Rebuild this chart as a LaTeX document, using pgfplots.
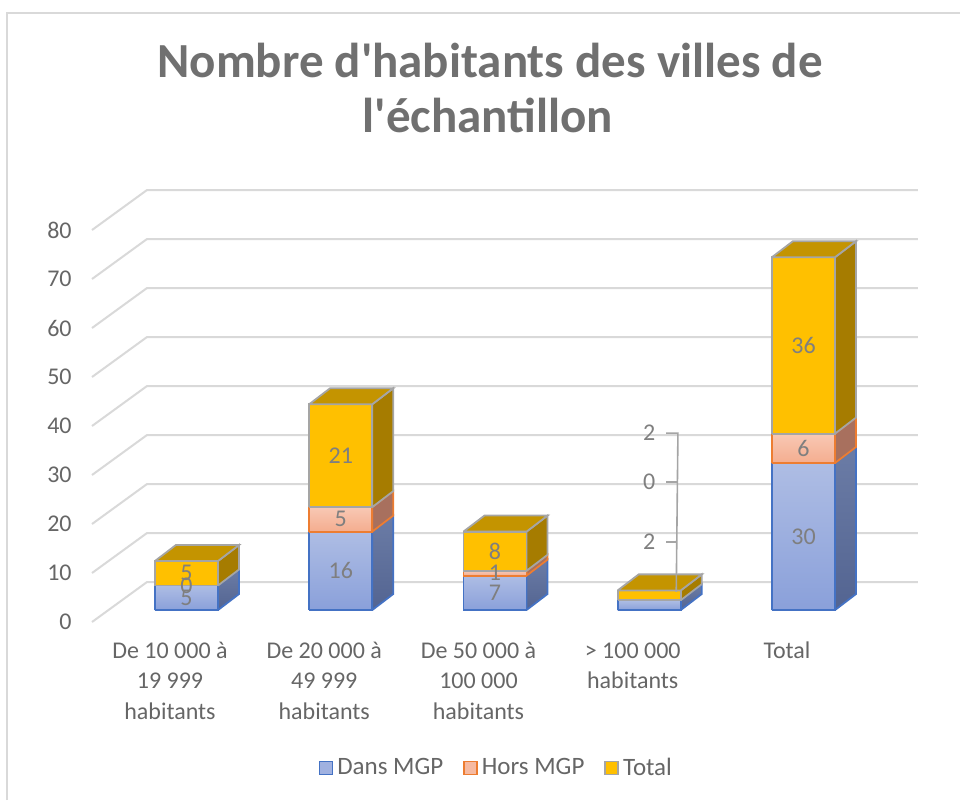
\documentclass[border=0pt]{standalone}
\usepackage{pgfplots}
\pgfplotsset{compat=1.18}
\usepackage{fontspec}
\setmainfont{Carlito}[Ligatures=TeXOff]
\definecolor{txt}{HTML}{666666}
\definecolor{ttl}{HTML}{707070}
\definecolor{lblgray}{HTML}{7F7F7F}
\definecolor{gridc}{HTML}{D9D9D9}
\definecolor{bTop}{HTML}{AEBDE4}
\definecolor{bBot}{HTML}{8AA0DA}
\definecolor{bEdge}{HTML}{4472C4}
\definecolor{bSideT}{HTML}{6B7CA6}
\definecolor{bSideB}{HTML}{536491}
\definecolor{oTop}{HTML}{F8C8B4}
\definecolor{oBot}{HTML}{F4AD8F}
\definecolor{oEdge}{HTML}{ED7D31}
\definecolor{oSide}{HTML}{A8705E}
\definecolor{yFront}{HTML}{FFC000}
\definecolor{yTop}{HTML}{C49400}
\definecolor{ySide}{HTML}{A67C00}
\definecolor{yEdge}{HTML}{A5A5A5}
\pgfplotsset{
 frontB/.style={top color=bTop,bottom color=bBot,draw=bEdge,line width=0.9pt},
 sideB/.style={top color=bSideT,bottom color=bSideB,draw=bEdge,line width=0.9pt},
 frontO/.style={top color=oTop,bottom color=oBot,draw=oEdge,line width=0.9pt},
 sideO/.style={fill=oSide,draw=oEdge,line width=0.9pt},
 frontY/.style={fill=yFront,draw=yEdge,line width=0.9pt},
 sideY/.style={fill=ySide,draw=yEdge,line width=0.9pt},
 topY/.style={fill=yTop,draw=yEdge,line width=0.9pt},
 lbl/.style={draw=none,mark=none,nodes near coords,point meta=explicit symbolic,
   every node near coord/.append style={anchor=center,font=\fontsize{12}{14}\selectfont,text=lblgray}},
}
% one segment of a 3D bar: #1 centre, #2 bottom, #3 top, #4 front style, #5 side style
\newcommand\seg[5]{%
 \pgfmathtruncatemacro\segok{(#3>#2)?1:0}%
 \ifnum\segok=1
  \pgfmathsetmacro\sxl{#1-0.2045}\pgfmathsetmacro\sxr{#1+0.2045}\pgfmathsetmacro\sxb{#1+0.3406}%
  \pgfmathsetmacro\syc{#2+3.27}\pgfmathsetmacro\syd{#3+3.27}%
  \edef\tmp{\noexpand\addplot[forget plot,mark=none,#5] coordinates {(\sxr,#2) (\sxb,\syc) (\sxb,\syd) (\sxr,#3) (\sxr,#2)};}\tmp
  \edef\tmp{\noexpand\addplot[forget plot,mark=none,#4] coordinates {(\sxl,#2) (\sxr,#2) (\sxr,#3) (\sxl,#3) (\sxl,#2)};}\tmp
 \fi}
% a stacked 3D bar: #1 centre, #2 Dans MGP, #3 Hors MGP, #4 Total, #5 labels on bar (1/0)
\newcommand\cube[5]{%
 \pgfmathsetmacro\cya{#2}\pgfmathsetmacro\cyb{#2+#3}\pgfmathsetmacro\cyc{#2+#3+#4}%
 \seg{#1}{0}{\cya}{frontB}{sideB}%
 \seg{#1}{\cya}{\cyb}{frontO}{sideO}%
 \seg{#1}{\cyb}{\cyc}{frontY}{sideY}%
 \pgfmathsetmacro\txl{#1-0.2045}\pgfmathsetmacro\txr{#1+0.2045}%
 \pgfmathsetmacro\txa{#1-0.0684}\pgfmathsetmacro\txb{#1+0.3406}\pgfmathsetmacro\tyy{\cyc+3.27}%
 \edef\tmp{\noexpand\addplot[forget plot,mark=none,topY] coordinates {(\txl,\cyc) (\txr,\cyc) (\txb,\tyy) (\txa,\tyy) (\txl,\cyc)};}\tmp
 \ifnum#5=1
  \pgfmathsetmacro\ma{\cya/2}\pgfmathsetmacro\mb{(\cya+\cyb)/2}\pgfmathsetmacro\mc{(\cyb+\cyc)/2}%
  \edef\tmp{\noexpand\addplot[forget plot,lbl] coordinates {(#1,\ma)[#2] (#1,\mb)[#3] (#1,\mc)[#4]};}\tmp
 \fi}
\begin{document}
\begin{tikzpicture}
\useasboundingbox (0,0) rectangle (480pt,-400pt);
\begin{scope}[x=0.5pt,y=-0.5pt]
 \draw[gridc,line width=0.8pt] (7,800) -- (7,13) -- (960,13);
 \node[anchor=base,text=ttl,font=\fontsize{24.5}{28}\selectfont\bfseries] at (490,77) {Nombre d'habitants des villes de};
 \node[anchor=base,text=ttl,font=\fontsize{24.5}{28}\selectfont\bfseries] at (488,132) {l'échantillon};
\end{scope}
\begin{axis}[
 at={(40pt,-320pt)}, anchor=south west,
 scale only axis, width=425pt, height=235pt,
 xmin=-0.6904, xmax=4.8201, ymin=-6.122, ymax=89.796,
 clip=false,
 axis line style={draw=none}, major tick length=0pt, tick style={draw=none},
 /pgf/number format/assume math mode=true,
 ytick={-2.449,7.551,17.551,27.551,37.551,47.551,57.551,67.551,77.551},
 yticklabels={0,10,20,30,40,50,60,70,80},
 yticklabel style={font=\fontsize{12}{14}\selectfont, text=txt, anchor=east, inner sep=0pt, xshift=-4pt},
 xtick={0,1,2,3,4},
 xticklabels={{\strut De 10 000 à\\19 999\\habitants},{\strut De 20 000 à\\49 999\\habitants},{\strut De 50 000 à\\100 000\\habitants},{\strut > 100 000\\habitants},{\strut Total}},
 xticklabel style={font=\fontsize{12}{15.2}\selectfont, text=txt, align=center, anchor=north, inner sep=0pt, xshift=-8.25pt, yshift=1.6pt},
 legend style={at={(0.491,-0.272)}, anchor=center, draw=none, fill=none, legend columns=3,
   font=\fontsize{12.5}{14}\selectfont, text=txt,
   /tikz/every even column/.append style={column sep=8pt}},
]
% gridlines (back wall with floor diagonals)
\pgfplotsinvokeforeach{0,10,...,80}{%
 \pgfmathsetmacro\gya{#1-2.449}\pgfmathsetmacro\gyb{#1+5.714}%
 \edef\tmp{\noexpand\addplot[forget plot,mark=none,draw=gridc,line width=1pt] coordinates {(-0.6126,\gya) (-0.2561,\gyb) (4.742,\gyb)};}\tmp
}
% legend
\addlegendimage{legend image code/.code={\draw[fill=bTop!60!bBot,draw=bEdge,line width=0.8pt] (0pt,-3.25pt) rectangle (6.5pt,3.25pt);}}
\addlegendentry{Dans MGP}
\addlegendimage{legend image code/.code={\draw[fill=oTop!50!oBot,draw=oEdge,line width=0.8pt] (0pt,-3.25pt) rectangle (6.5pt,3.25pt);}}
\addlegendentry{Hors MGP}
\addlegendimage{legend image code/.code={\draw[fill=yFront,draw=yEdge,line width=0.8pt] (0pt,-3.25pt) rectangle (6.5pt,3.25pt);}}
\addlegendentry{Total}
% bars: centre, Dans MGP, Hors MGP, Total
\cube{0}{5}{0}{5}{1}
\cube{1}{16}{5}{21}{1}
\cube{2}{7}{1}{8}{1}
\cube{3}{2}{0}{2}{0}
\cube{4}{30}{6}{36}{1}
% labels of the small bar, with leader lines
\addplot[forget plot,mark=none,draw=yEdge,line width=0.8pt] coordinates {(3.11,36.1) (3.186,36.1) (3.175,3.7)};
\addplot[forget plot,mark=none,draw=yEdge,line width=0.8pt] coordinates {(3.11,26.1) (3.183,26.1)};
\addplot[forget plot,mark=none,draw=yEdge,line width=0.8pt] coordinates {(3.11,13.9) (3.18,13.9)};
\addplot[forget plot,lbl] coordinates {(3.0,13.9)[2] (3.0,26.1)[0] (3.0,36.1)[2]};
\end{axis}
\end{tikzpicture}
\end{document}
